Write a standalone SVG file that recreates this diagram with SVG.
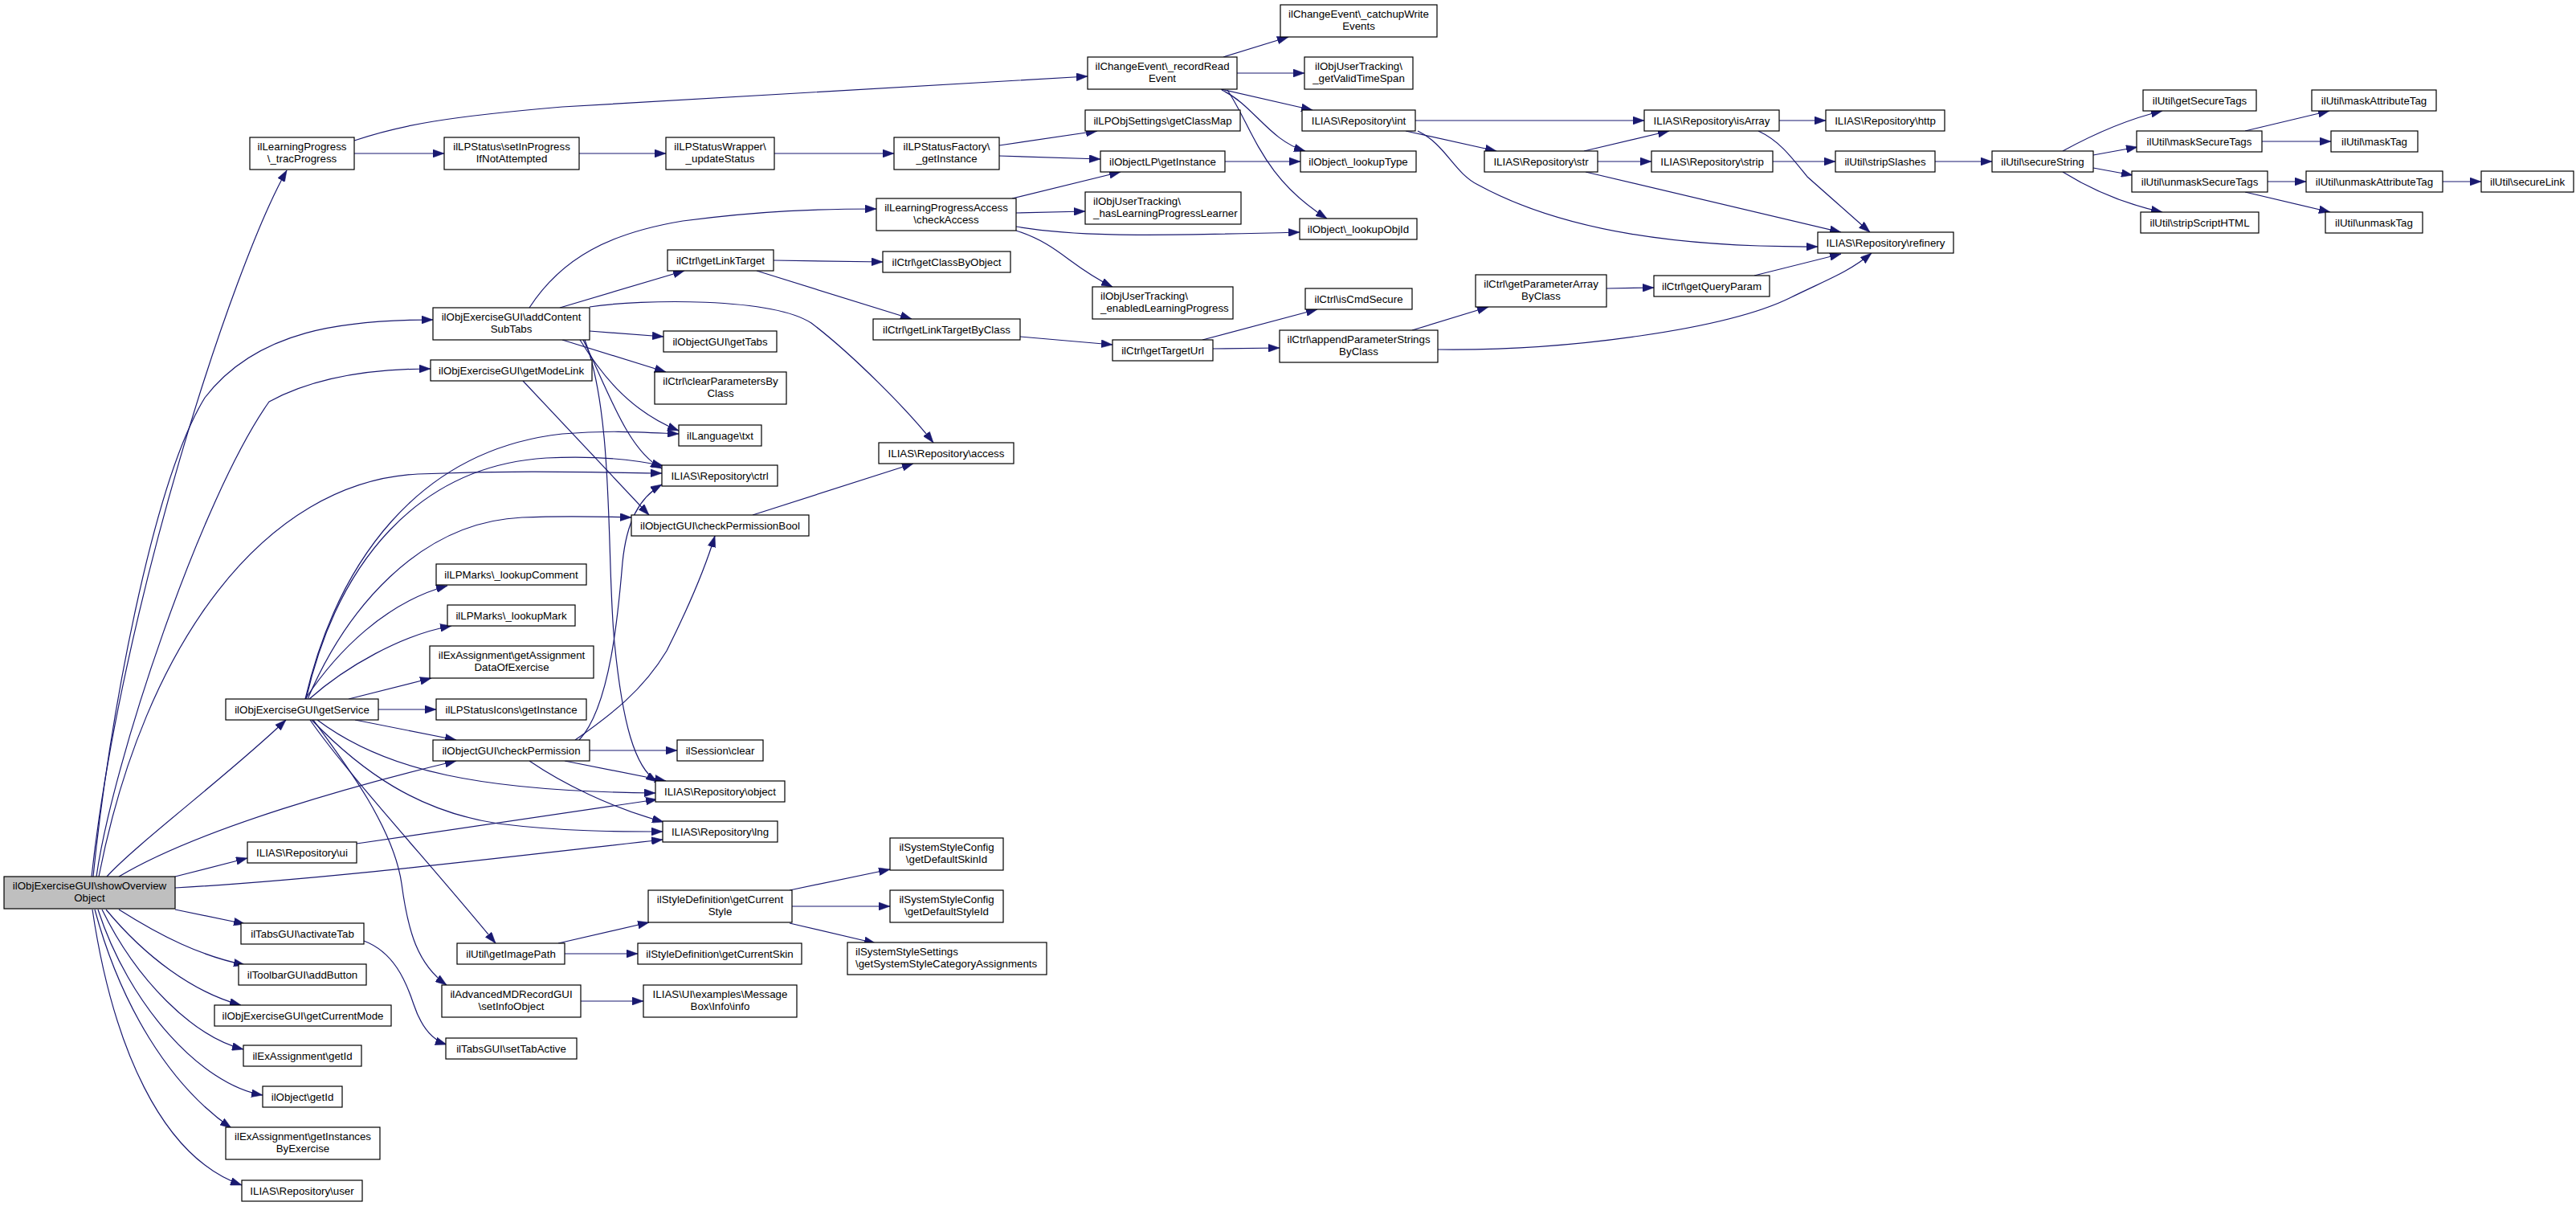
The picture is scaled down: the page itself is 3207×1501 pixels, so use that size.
<svg xmlns="http://www.w3.org/2000/svg" width="3207" height="1501" viewBox="0 0 3207 1501">
<style>
.n rect{fill:#fff;stroke:#000;stroke-width:1.2}
.root rect{fill:#bfbfbf}
text{font-family:"Liberation Sans",Arial,Helvetica,sans-serif;font-size:13.3px;fill:#000;text-anchor:middle}
.l text{text-anchor:start}
#edges path{fill:none;stroke:#191970;stroke-width:1.2;marker-end:url(#a)}
</style>
<defs>
<marker id="a" markerUnits="userSpaceOnUse" markerWidth="14" markerHeight="10" viewBox="0 0 13.3 9.4" refX="13.3" refY="4.7" orient="auto">
<path d="M0,0 L13.3,4.7 L0,9.4 z" fill="#191970" stroke="#191970" stroke-width="0.5"/>
</marker>
</defs>
<rect width="3207" height="1501" fill="#fff"/>
<g id="edges">
<path d="M114,1091 C150,760 290,330 357,212"/>
<path d="M116,1091 C135,900 190,600 255,495 C320,410 430,398 539,398"/>
<path d="M120,1091 C140,950 250,620 335,500 C390,470 460,459 536,459"/>
<path d="M123,1091 C180,800 330,600 520,590 C650,585 740,588 824,589"/>
<path d="M133,1091 C170,1050 290,960 356,896"/>
<path d="M148,1091 C250,1030 450,975 568,947"/>
<path d="M218,1091 L308,1068"/>
<path d="M218,1105 C400,1095 600,1070 825,1045"/>
<path d="M218,1132 L305,1150"/>
<path d="M148,1132 C200,1165 250,1190 305,1201"/>
<path d="M132,1132 C180,1190 240,1235 300,1251"/>
<path d="M127,1132 C170,1220 240,1290 303,1306"/>
<path d="M122,1132 C160,1250 250,1350 327,1363"/>
<path d="M118,1132 C150,1250 210,1350 288,1404"/>
<path d="M115,1132 C140,1300 200,1440 301,1475"/>
<path d="M441,191 L553,191"/>
<path d="M441,175 C500,155 560,145 700,133 L1354,95"/>
<path d="M721,191 L829,191"/>
<path d="M964,191 L1113,191"/>
<path d="M1244,181 L1366,163"/>
<path d="M1244,194 L1370,198"/>
<path d="M1525,201 L1619,201"/>
<path d="M1260,247 L1395,214"/>
<path d="M1265,265 L1351,263"/>
<path d="M1265,282 C1330,293 1400,295 1618,289"/>
<path d="M1265,287 C1320,305 1330,330 1385,357"/>
<path d="M1523,71 L1604,46"/>
<path d="M1540,91 L1624,91"/>
<path d="M1520,111 L1634,137"/>
<path d="M1521,112 C1560,130 1580,175 1625,188"/>
<path d="M1528,112 C1560,160 1570,220 1652,272"/>
<path d="M1762,150 L2047,150"/>
<path d="M1750,163 L1863,188"/>
<path d="M1765,163 C1800,180 1810,215 1840,230 C1950,290 2100,308 2263,307"/>
<path d="M1972,188 L2078,163"/>
<path d="M1989,201 L2056,201"/>
<path d="M1974,214 L2292,289"/>
<path d="M2215,150 L2273,150"/>
<path d="M2189,163 C2215,175 2230,195 2250,220 L2328,289"/>
<path d="M2207,201 L2285,201"/>
<path d="M2409,201 L2480,201"/>
<path d="M2568,188 C2610,165 2650,148 2692,138"/>
<path d="M2606,193 L2661,183"/>
<path d="M2606,209 L2655,218"/>
<path d="M2568,214 C2610,240 2650,255 2692,264"/>
<path d="M2795,163 L2900,138"/>
<path d="M2816,176 L2902,176"/>
<path d="M2823,226 L2871,226"/>
<path d="M2795,239 L2901,264"/>
<path d="M3041,226 L3089,226"/>
<path d="M659,383 C700,320 760,290 850,275 C950,262 1020,260 1091,260"/>
<path d="M697,383 L852,337"/>
<path d="M734,382 C800,372 960,370 1010,402 C1060,440 1130,510 1162,551"/>
<path d="M734,412 L826,419"/>
<path d="M700,423 L829,463"/>
<path d="M722,423 C745,460 780,510 845,536"/>
<path d="M726,423 C755,480 780,560 824,583"/>
<path d="M728,423 C765,520 755,700 765,800 C775,900 790,955 818,973"/>
<path d="M651,474 L808,641"/>
<path d="M380,870 C420,810 480,750 557,729"/>
<path d="M385,870 C430,830 500,790 562,779"/>
<path d="M434,870 L537,844"/>
<path d="M471,883 L543,883"/>
<path d="M442,896 L568,921"/>
<path d="M380,870 C420,700 520,560 700,540 C760,535 800,538 845,540"/>
<path d="M381,870 C420,700 520,580 680,570 C740,567 790,572 826,580"/>
<path d="M383,870 C430,760 520,650 650,644 C700,642 750,643 786,644"/>
<path d="M395,896 C480,960 600,985 816,987"/>
<path d="M388,896 C450,960 520,1010 620,1025 C700,1035 770,1035 825,1035"/>
<path d="M386,896 C430,960 540,1080 617,1174"/>
<path d="M390,896 C430,950 490,1030 500,1100 C508,1160 520,1200 556,1226"/>
<path d="M734,934 L843,934"/>
<path d="M703,947 L829,972"/>
<path d="M659,947 C700,975 760,1005 826,1023"/>
<path d="M716,921 C760,890 800,860 830,810 C860,750 880,700 890,667"/>
<path d="M721,921 C760,880 770,760 775,700 C780,650 795,620 824,603"/>
<path d="M444,1050 L818,995"/>
<path d="M453,1171 C490,1185 505,1220 515,1250 C525,1280 540,1295 556,1300"/>
<path d="M695,1174 L808,1148"/>
<path d="M703,1187 L794,1187"/>
<path d="M983,1108 L1108,1082"/>
<path d="M986,1128 L1108,1128"/>
<path d="M983,1149 L1090,1174"/>
<path d="M723,1246 L801,1246"/>
<path d="M963,324 L1099,326"/>
<path d="M942,337 L1135,397"/>
<path d="M1270,419 L1385,429"/>
<path d="M1497,423 L1640,385"/>
<path d="M1510,434 L1593,433"/>
<path d="M1758,411 L1853,382"/>
<path d="M1790,435 C1950,437 2150,410 2230,370 C2270,350 2300,340 2330,315"/>
<path d="M2000,359 L2059,358"/>
<path d="M2184,343 L2292,316"/>
<path d="M937,641 L1137,577"/>
</g>
<g id="n-root" class="n root"><rect x="5" y="1091" width="213" height="40"/><text x="111.5" y="1107.4">ilObjExerciseGUI\showOverview</text><text x="111.5" y="1122.4">Object</text></g>
<g id="n-tracProgress" class="n"><rect x="311" y="171" width="130" height="40"/><text x="376" y="187.4">ilLearningProgress</text><text x="376" y="202.4">\_tracProgress</text></g>
<g id="n-setInProgress" class="n"><rect x="553" y="171" width="168" height="40"/><text x="637" y="187.4">ilLPStatus\setInProgress</text><text x="637" y="202.4">IfNotAttempted</text></g>
<g id="n-updateStatus" class="n"><rect x="829" y="171" width="135" height="40"/><text x="896.5" y="187.4">ilLPStatusWrapper\</text><text x="896.5" y="202.4">_updateStatus</text></g>
<g id="n-lpsFactory" class="n"><rect x="1113" y="171" width="131" height="40"/><text x="1178.5" y="187.4">ilLPStatusFactory\</text><text x="1178.5" y="202.4">_getInstance</text></g>
<g id="n-getClassMap" class="n"><rect x="1351" y="137" width="193" height="26"/><text x="1447.5" y="154.7">ilLPObjSettings\getClassMap</text></g>
<g id="n-objLP" class="n"><rect x="1370" y="188" width="155" height="26"/><text x="1447.5" y="205.7">ilObjectLP\getInstance</text></g>
<g id="n-recordReadEvent" class="n"><rect x="1354" y="71" width="186" height="40"/><text x="1447" y="87.4">ilChangeEvent\_recordRead</text><text x="1447" y="102.4">Event</text></g>
<g id="n-catchup" class="n"><rect x="1594" y="6" width="195" height="40"/><text x="1691.5" y="22.4">ilChangeEvent\_catchupWrite</text><text x="1691.5" y="37.4">Events</text></g>
<g id="n-getValidTimeSpan" class="n"><rect x="1624" y="71" width="135" height="40"/><text x="1691.5" y="87.4">ilObjUserTracking\</text><text x="1691.5" y="102.4">_getValidTimeSpan</text></g>
<g id="n-repoInt" class="n"><rect x="1621" y="137" width="141" height="26"/><text x="1691.5" y="154.7">ILIAS\Repository\int</text></g>
<g id="n-lookupType" class="n"><rect x="1619" y="188" width="144" height="26"/><text x="1691" y="205.7">ilObject\_lookupType</text></g>
<g id="n-lookupObjId" class="n"><rect x="1618" y="272" width="146" height="26"/><text x="1691" y="289.7">ilObject\_lookupObjId</text></g>
<g id="n-repoStr" class="n"><rect x="1848" y="188" width="141" height="26"/><text x="1918.5" y="205.7">ILIAS\Repository\str</text></g>
<g id="n-isArray" class="n"><rect x="2047" y="137" width="168" height="26"/><text x="2131" y="154.7">ILIAS\Repository\isArray</text></g>
<g id="n-http" class="n"><rect x="2273" y="137" width="148" height="26"/><text x="2347" y="154.7">ILIAS\Repository\http</text></g>
<g id="n-strip" class="n"><rect x="2056" y="188" width="151" height="26"/><text x="2131.5" y="205.7">ILIAS\Repository\strip</text></g>
<g id="n-stripSlashes" class="n"><rect x="2285" y="188" width="124" height="26"/><text x="2347" y="205.7">ilUtil\stripSlashes</text></g>
<g id="n-refinery" class="n"><rect x="2263" y="289" width="169" height="26"/><text x="2347.5" y="306.7">ILIAS\Repository\refinery</text></g>
<g id="n-secureString" class="n"><rect x="2480" y="188" width="126" height="26"/><text x="2543" y="205.7">ilUtil\secureString</text></g>
<g id="n-getSecureTags" class="n"><rect x="2668" y="112" width="141" height="26"/><text x="2738.5" y="129.7">ilUtil\getSecureTags</text></g>
<g id="n-maskSecureTags" class="n"><rect x="2660" y="163" width="156" height="26"/><text x="2738" y="180.7">ilUtil\maskSecureTags</text></g>
<g id="n-unmaskSecureTags" class="n"><rect x="2654" y="213" width="169" height="26"/><text x="2738.5" y="230.7">ilUtil\unmaskSecureTags</text></g>
<g id="n-stripScriptHTML" class="n"><rect x="2665" y="264" width="147" height="26"/><text x="2738.5" y="281.7">ilUtil\stripScriptHTML</text></g>
<g id="n-maskAttributeTag" class="n"><rect x="2878" y="112" width="155" height="26"/><text x="2955.5" y="129.7">ilUtil\maskAttributeTag</text></g>
<g id="n-maskTag" class="n"><rect x="2902" y="163" width="108" height="26"/><text x="2956" y="180.7">ilUtil\maskTag</text></g>
<g id="n-unmaskAttributeTag" class="n"><rect x="2871" y="213" width="170" height="26"/><text x="2956" y="230.7">ilUtil\unmaskAttributeTag</text></g>
<g id="n-secureLink" class="n"><rect x="3089" y="213" width="115" height="26"/><text x="3146.5" y="230.7">ilUtil\secureLink</text></g>
<g id="n-unmaskTag" class="n"><rect x="2895" y="264" width="121" height="26"/><text x="2955.5" y="281.7">ilUtil\unmaskTag</text></g>
<g id="n-addContentSubTabs" class="n"><rect x="539" y="383" width="195" height="40"/><text x="636.5" y="399.4">ilObjExerciseGUI\addContent</text><text x="636.5" y="414.4">SubTabs</text></g>
<g id="n-checkAccess" class="n"><rect x="1091" y="247" width="174" height="40"/><text x="1178" y="263.4">ilLearningProgressAccess</text><text x="1178" y="278.4">\checkAccess</text></g>
<g id="n-hasLPLearner" class="n l"><rect x="1351" y="239" width="194" height="40"/><text x="1361" y="255.4">ilObjUserTracking\</text><text x="1361" y="270.4">_hasLearningProgressLearner</text></g>
<g id="n-enabledLP" class="n l"><rect x="1360" y="357" width="175" height="40"/><text x="1370" y="373.4">ilObjUserTracking\</text><text x="1370" y="388.4">_enabledLearningProgress</text></g>
<g id="n-getLinkTarget" class="n"><rect x="831" y="311" width="132" height="26"/><text x="897" y="328.7">ilCtrl\getLinkTarget</text></g>
<g id="n-getClassByObject" class="n"><rect x="1099" y="313" width="159" height="26"/><text x="1178.5" y="330.7">ilCtrl\getClassByObject</text></g>
<g id="n-getLinkTargetByClass" class="n"><rect x="1087" y="397" width="183" height="26"/><text x="1178.5" y="414.7">ilCtrl\getLinkTargetByClass</text></g>
<g id="n-getTargetUrl" class="n"><rect x="1385" y="423" width="125" height="26"/><text x="1447.5" y="440.7">ilCtrl\getTargetUrl</text></g>
<g id="n-isCmdSecure" class="n"><rect x="1625" y="359" width="133" height="26"/><text x="1691.5" y="376.7">ilCtrl\isCmdSecure</text></g>
<g id="n-appendParam" class="n"><rect x="1593" y="411" width="197" height="40"/><text x="1691.5" y="427.4">ilCtrl\appendParameterStrings</text><text x="1691.5" y="442.4">ByClass</text></g>
<g id="n-getParamArray" class="n"><rect x="1837" y="342" width="163" height="40"/><text x="1918.5" y="358.4">ilCtrl\getParameterArray</text><text x="1918.5" y="373.4">ByClass</text></g>
<g id="n-getQueryParam" class="n"><rect x="2059" y="343" width="144" height="26"/><text x="2131" y="360.7">ilCtrl\getQueryParam</text></g>
<g id="n-getTabs" class="n"><rect x="826" y="412" width="141" height="26"/><text x="896.5" y="429.7">ilObjectGUI\getTabs</text></g>
<g id="n-clearParams" class="n"><rect x="815" y="463" width="164" height="40"/><text x="897" y="479.4">ilCtrl\clearParametersBy</text><text x="897" y="494.4">Class</text></g>
<g id="n-getModeLink" class="n"><rect x="536" y="448" width="201" height="26"/><text x="636.5" y="465.7">ilObjExerciseGUI\getModeLink</text></g>
<g id="n-txt" class="n"><rect x="845" y="529" width="103" height="26"/><text x="896.5" y="546.7">ilLanguage\txt</text></g>
<g id="n-repoCtrl" class="n"><rect x="824" y="579" width="144" height="26"/><text x="896" y="596.7">ILIAS\Repository\ctrl</text></g>
<g id="n-repoAccess" class="n"><rect x="1094" y="551" width="168" height="26"/><text x="1178" y="568.7">ILIAS\Repository\access</text></g>
<g id="n-checkPermissionBool" class="n"><rect x="786" y="641" width="221" height="26"/><text x="896.5" y="658.7">ilObjectGUI\checkPermissionBool</text></g>
<g id="n-lookupComment" class="n"><rect x="543" y="702" width="187" height="26"/><text x="636.5" y="719.7">ilLPMarks\_lookupComment</text></g>
<g id="n-lookupMark" class="n"><rect x="557" y="753" width="159" height="26"/><text x="636.5" y="770.7">ilLPMarks\_lookupMark</text></g>
<g id="n-getAssignmentData" class="n"><rect x="535" y="804" width="204" height="40"/><text x="637" y="820.4">ilExAssignment\getAssignment</text><text x="637" y="835.4">DataOfExercise</text></g>
<g id="n-getService" class="n"><rect x="281" y="870" width="190" height="26"/><text x="376" y="887.7">ilObjExerciseGUI\getService</text></g>
<g id="n-LPStatusIcons" class="n"><rect x="543" y="870" width="187" height="26"/><text x="636.5" y="887.7">ilLPStatusIcons\getInstance</text></g>
<g id="n-checkPermission" class="n"><rect x="539" y="921" width="195" height="26"/><text x="636.5" y="938.7">ilObjectGUI\checkPermission</text></g>
<g id="n-sessionClear" class="n"><rect x="843" y="921" width="107" height="26"/><text x="896.5" y="938.7">ilSession\clear</text></g>
<g id="n-repoObject" class="n"><rect x="816" y="972" width="161" height="26"/><text x="896.5" y="989.7">ILIAS\Repository\object</text></g>
<g id="n-repoLng" class="n"><rect x="825" y="1022" width="143" height="26"/><text x="896.5" y="1039.7">ILIAS\Repository\lng</text></g>
<g id="n-repoUi" class="n"><rect x="308" y="1048" width="136" height="26"/><text x="376" y="1065.7">ILIAS\Repository\ui</text></g>
<g id="n-activateTab" class="n"><rect x="300" y="1149" width="153" height="26"/><text x="376.5" y="1166.7">ilTabsGUI\activateTab</text></g>
<g id="n-addButton" class="n"><rect x="297" y="1200" width="159" height="26"/><text x="376.5" y="1217.7">ilToolbarGUI\addButton</text></g>
<g id="n-getCurrentMode" class="n"><rect x="267" y="1251" width="220" height="26"/><text x="377" y="1268.7">ilObjExerciseGUI\getCurrentMode</text></g>
<g id="n-exGetId" class="n"><rect x="303" y="1301" width="147" height="26"/><text x="376.5" y="1318.7">ilExAssignment\getId</text></g>
<g id="n-objGetId" class="n"><rect x="327" y="1352" width="99" height="26"/><text x="376.5" y="1369.7">ilObject\getId</text></g>
<g id="n-getInstancesByExercise" class="n"><rect x="281" y="1403" width="192" height="40"/><text x="377" y="1419.4">ilExAssignment\getInstances</text><text x="377" y="1434.4">ByExercise</text></g>
<g id="n-repoUser" class="n"><rect x="301" y="1469" width="150" height="26"/><text x="376" y="1486.7">ILIAS\Repository\user</text></g>
<g id="n-getImagePath" class="n"><rect x="569" y="1174" width="134" height="26"/><text x="636" y="1191.7">ilUtil\getImagePath</text></g>
<g id="n-getCurrentStyle" class="n"><rect x="807" y="1108" width="179" height="40"/><text x="896.5" y="1124.4">ilStyleDefinition\getCurrent</text><text x="896.5" y="1139.4">Style</text></g>
<g id="n-getCurrentSkin" class="n"><rect x="794" y="1174" width="204" height="26"/><text x="896" y="1191.7">ilStyleDefinition\getCurrentSkin</text></g>
<g id="n-getDefaultSkinId" class="n"><rect x="1108" y="1043" width="141" height="40"/><text x="1178.5" y="1059.4">ilSystemStyleConfig</text><text x="1178.5" y="1074.4">\getDefaultSkinId</text></g>
<g id="n-getDefaultStyleId" class="n"><rect x="1108" y="1108" width="141" height="40"/><text x="1178.5" y="1124.4">ilSystemStyleConfig</text><text x="1178.5" y="1139.4">\getDefaultStyleId</text></g>
<g id="n-sysStyleCat" class="n l"><rect x="1055" y="1173" width="248" height="40"/><text x="1065" y="1189.4">ilSystemStyleSettings</text><text x="1065" y="1204.4">\getSystemStyleCategoryAssignments</text></g>
<g id="n-setInfoObject" class="n"><rect x="550" y="1226" width="173" height="40"/><text x="636.5" y="1242.4">ilAdvancedMDRecordGUI</text><text x="636.5" y="1257.4">\setInfoObject</text></g>
<g id="n-messageBox" class="n"><rect x="801" y="1226" width="191" height="40"/><text x="896.5" y="1242.4">ILIAS\UI\examples\Message</text><text x="896.5" y="1257.4">Box\Info\info</text></g>
<g id="n-setTabActive" class="n"><rect x="555" y="1292" width="163" height="26"/><text x="636.5" y="1309.7">ilTabsGUI\setTabActive</text></g>
</svg>
